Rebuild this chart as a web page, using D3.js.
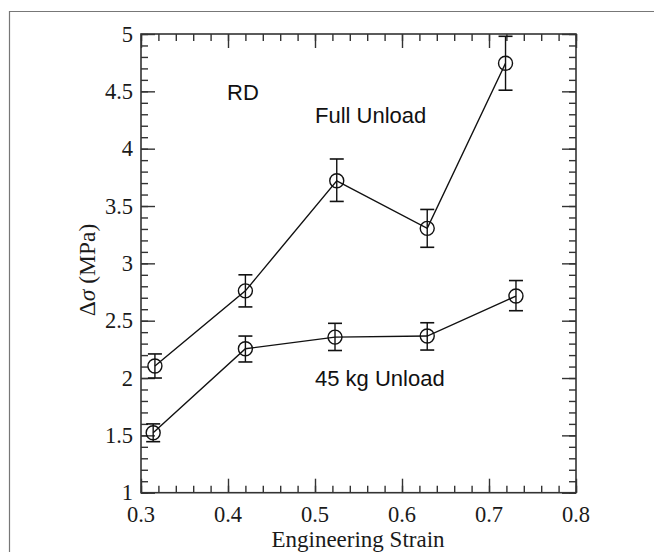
<!DOCTYPE html>
<html>
<head>
<meta charset="utf-8">
<script src="https://cdnjs.cloudflare.com/ajax/libs/d3/7.8.5/d3.min.js"></script>
<style>
  body { margin: 0; background: #fff; }
  svg { display: block; }
</style>
</head>
<body>
<svg id="chart" width="654" height="552"></svg>
<script>
// strain values for each unload series
const fullStrain = [0.316, 0.42, 0.525, 0.629, 0.719];
const fullStress = [2.105, 2.76, 3.72, 3.305, 4.745];
const fullErrLow = [2.0, 2.62, 3.54, 3.14, 4.51];
const fullErrHigh = [2.21, 2.90, 3.91, 3.47, 4.98];

const kgStrain = [0.314, 0.42, 0.523, 0.629, 0.731];
const kgStress = [1.523, 2.255, 2.357, 2.366, 2.715];
const kgErrLow = [1.445, 2.14, 2.24, 2.244, 2.587];
const kgErrHigh = [1.60, 2.366, 2.477, 2.482, 2.85];

const xTicks = [0.3, 0.4, 0.5, 0.6, 0.7, 0.8];
const yTicks = [1, 1.5, 2, 2.5, 3, 3.5, 4, 4.5, 5];

(function (d3) {
    'use strict';

    const svg = d3.select("#chart");
    const left = 141, right = 576, top = 34, bottom = 492.7;

    const x = d3.scaleLinear().domain([0.3, 0.8]).range([left, right]);
    const y = d3.scaleLinear().domain([1, 5]).range([bottom, top]);

    // outer frame (only top and left edges visible)
    svg.append("path")
        .attr("d", "M9.5,552 L9.5,11.5 L654,11.5")
        .attr("fill", "none")
        .attr("stroke", "#777")
        .attr("stroke-width", 1.2);

    const axisColor = "#333";
    const serif = "'Liberation Serif', 'Times New Roman', serif";
    const sans = "'Liberation Sans', Arial, sans-serif";

    const xMinor = d3.range(0.3, 0.8001, 0.02);
    const yMinor = d3.range(1, 5.0001, 0.1);

    // inward ticks on every side
    function addAxis(axis, tx, ty, values, size) {
        const g = svg.append("g")
            .attr("transform", `translate(${tx},${ty})`)
            .call(axis.tickValues(values).tickSize(size).tickFormat(""));
        g.select(".domain").remove();
        g.selectAll("line").attr("stroke", axisColor).attr("stroke-width", 1.4);
        return g;
    }

    addAxis(d3.axisBottom(x), 0, bottom, xMinor, -7);
    addAxis(d3.axisBottom(x), 0, bottom, xTicks, -14);
    addAxis(d3.axisTop(x), 0, top, xMinor, -7);
    addAxis(d3.axisTop(x), 0, top, xTicks, -14);
    addAxis(d3.axisLeft(y), left, 0, yMinor, -7);
    addAxis(d3.axisLeft(y), left, 0, yTicks, -14);
    addAxis(d3.axisRight(y), right, 0, yMinor, -7);
    addAxis(d3.axisRight(y), right, 0, yTicks, -14);

    svg.append("rect")
        .attr("x", left).attr("y", top)
        .attr("width", right - left).attr("height", bottom - top)
        .attr("fill", "none")
        .attr("stroke", axisColor)
        .attr("stroke-width", 1.6);

    // tick labels
    svg.append("g").selectAll("text")
        .data(xTicks).enter().append("text")
        .attr("x", d => x(d))
        .attr("y", 522)
        .attr("text-anchor", "middle")
        .style("font-family", serif)
        .style("font-size", "22.5px")
        .attr("fill", "#1a1a1a")
        .text(d => d);

    svg.append("g").selectAll("text")
        .data(yTicks).enter().append("text")
        .attr("x", left - 8)
        .attr("y", d => y(d) + 7.5)
        .attr("text-anchor", "end")
        .style("font-family", serif)
        .style("font-size", "22.5px")
        .attr("fill", "#1a1a1a")
        .text(d => d);

    // axis titles
    svg.append("text")
        .attr("x", 358)
        .attr("y", 547)
        .attr("text-anchor", "middle")
        .style("font-family", serif)
        .style("font-size", "23px")
        .attr("fill", "#1a1a1a")
        .text("Engineering Strain");

    const yl = svg.append("text")
        .attr("transform", `translate(95,270) rotate(-90)`)
        .attr("text-anchor", "middle")
        .style("font-family", serif)
        .style("font-size", "23.5px")
        .attr("fill", "#1a1a1a");
    yl.append("tspan").text("\u0394");
    yl.append("tspan").style("font-style", "italic").text("\u03c3");
    yl.append("tspan").text(" (MPa)");

    // series
    const series = [
        {xs: fullStrain, ys: fullStress, lo: fullErrLow, hi: fullErrHigh},
        {xs: kgStrain, ys: kgStress, lo: kgErrLow, hi: kgErrHigh}
    ];

    const line = d3.line().x(d => x(d.x)).y(d => y(d.y));

    series.forEach(s => {
        const pts = s.xs.map((v, i) => ({x: v, y: s.ys[i], lo: s.lo[i], hi: s.hi[i]}));
        const g = svg.append("g");

        g.append("path")
            .datum(pts)
            .attr("d", line)
            .attr("fill", "none")
            .attr("stroke", "#111")
            .attr("stroke-width", 1.4);

        const bars = g.selectAll(".err").data(pts).enter().append("g");
        bars.append("line")
            .attr("x1", d => x(d.x)).attr("x2", d => x(d.x))
            .attr("y1", d => y(d.lo)).attr("y2", d => y(d.hi))
            .attr("stroke", "#111").attr("stroke-width", 1.4);
        bars.append("line")
            .attr("x1", d => x(d.x) - 7).attr("x2", d => x(d.x) + 7)
            .attr("y1", d => y(d.lo)).attr("y2", d => y(d.lo))
            .attr("stroke", "#111").attr("stroke-width", 1.6);
        bars.append("line")
            .attr("x1", d => x(d.x) - 7).attr("x2", d => x(d.x) + 7)
            .attr("y1", d => y(d.hi)).attr("y2", d => y(d.hi))
            .attr("stroke", "#111").attr("stroke-width", 1.6);

        g.selectAll("circle").data(pts).enter().append("circle")
            .attr("cx", d => x(d.x))
            .attr("cy", d => y(d.y))
            .attr("r", 7)
            .attr("fill", "none")
            .attr("stroke", "#111")
            .attr("stroke-width", 1.4);
    });

    // annotations
    const notes = [
        {t: "RD", px: 227, py: 100},
        {t: "Full Unload", px: 315, py: 123},
        {t: "45 kg Unload", px: 315, py: 386}
    ];
    svg.append("g").selectAll("text")
        .data(notes).enter().append("text")
        .attr("x", d => d.px)
        .attr("y", d => d.py)
        .style("font-family", sans)
        .style("font-size", "22px")
        .attr("fill", "#111")
        .text(d => d.t);

}(d3));
</script>
</body>
</html>
